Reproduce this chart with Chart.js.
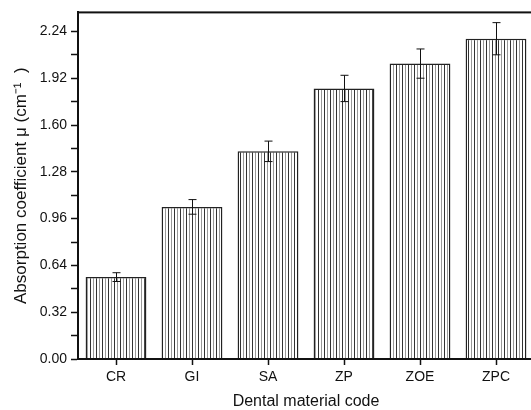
<!DOCTYPE html>
<html>
<head>
<meta charset="utf-8">
<script src="https://cdn.jsdelivr.net/npm/chart.js@4/dist/chart.umd.min.js"></script>
<style>
  html, body { margin: 0; padding: 0; background: #fff; overflow: hidden; }
  #wrap { width: 531px; height: 410px; overflow: hidden; }
</style>
</head>
<body>
<div id="wrap"><canvas id="muChart" width="540" height="410"></canvas></div>
<script>
// dental material codes on the x axis
const materialCodes = ['CR', 'GI', 'SA', 'ZP', 'ZOE', 'ZPC'];
// absorption coefficient (cm^-1) and its error
const muValues = [0.56, 1.04, 1.42, 1.85, 2.02, 2.19];
const muErrors = [0.03, 0.05, 0.07, 0.09, 0.10, 0.11];
// y axis: major step, minor step, top of the axis
const yMajorStep = 0.32;
const yMinorStep = 0.16;
const yMax = 2.37;

// vertical hatch fill like the original plot
function makeHatch() {
  const c = document.createElement('canvas');
  c.width = 6; c.height = 6;
  const g = c.getContext('2d');
  g.fillStyle = '#fff';
  g.fillRect(0, 0, 6, 6);
  g.fillStyle = '#333';
  g.fillRect(0, 0, 1, 6);
  g.fillStyle = '#999';
  g.fillRect(3, 0, 1, 6);
  return g.createPattern(c, 'repeat');
}

// frame round the plot area + error bars
const framePlugin = {
  id: 'frame',
  afterDatasetsDraw(chart) {
    const { ctx, chartArea: a, scales: { y } } = chart;
    const bars = chart.getDatasetMeta(0).data;
    ctx.save();
    ctx.strokeStyle = '#111';
    ctx.lineWidth = 1;
    bars.forEach((bar, i) => {
      const top = y.getPixelForValue(muValues[i] + muErrors[i]);
      const bot = y.getPixelForValue(muValues[i] - muErrors[i]);
      const x = Math.round(bar.x) + 0.5;
      ctx.beginPath();
      ctx.moveTo(x, top); ctx.lineTo(x, bot);
      ctx.moveTo(x - 4, top); ctx.lineTo(x + 4, top);
      ctx.moveTo(x - 4, bot); ctx.lineTo(x + 4, bot);
      ctx.stroke();
    });
    ctx.lineWidth = 2;
    ctx.strokeRect(a.left, a.top, a.right - a.left, a.bottom - a.top);
    ctx.restore();
  }
};

const ctx = document.getElementById('muChart').getContext('2d');
new Chart(ctx, {
  type: 'bar',
  data: {
    labels: materialCodes,
    datasets: [{
      data: muValues,
      backgroundColor: makeHatch(),
      borderColor: '#222',
      borderWidth: 1.5,
      borderSkipped: 'bottom',
      barPercentage: 1.0,
      categoryPercentage: 0.8
    }]
  },
  options: {
    responsive: false,
    animation: false,
    layout: { padding: { top: 12, right: 6, left: 0, bottom: 0 } },
    plugins: {
      legend: { display: false },
      tooltip: { enabled: false }
    },
    scales: {
      x: {
        grid: { display: true, drawOnChartArea: false, offset: false, tickLength: 6, tickColor: '#111', tickWidth: 1.5 },
        border: { display: true, color: '#111', width: 2 },
        ticks: { color: '#111', font: { family: 'Liberation Sans, Arial', size: 14 }, padding: 4 },
        title: {
          display: true,
          text: 'Dental material code',
          color: '#111',
          font: { family: 'Liberation Sans, Arial', size: 16, lineHeight: 1 },
          padding: { top: 0, bottom: 0 }
        },
        afterFit(scale) { scale.height = 51; }
      },
      y: {
        min: 0,
        max: yMax,
        grid: { display: true, drawOnChartArea: false, tickLength: 7, tickColor: '#111', tickWidth: 1.5 },
        border: { display: true, color: '#111', width: 2 },
        ticks: {
          stepSize: yMinorStep,
          includeBounds: false,
          padding: 4,
          color: '#111',
          font: { family: 'Liberation Sans, Arial', size: 14 },
          callback: (v) => {
            const k = Math.round(v / yMinorStep);
            return k % 2 === 0 ? (k * yMinorStep).toFixed(2) : '';
          }
        },
        title: {
          display: true,
          text: 'Absorption coefficient \u03bc (cm\u207b\u00b9  )',
          color: '#111',
          font: { family: 'Liberation Sans, Arial', size: 17 },
          padding: { top: 11, bottom: 0 }
        },
        afterFit(scale) { scale.width = 78; }
      }
    }
  },
  plugins: [framePlugin]
});
</script>
</body>
</html>
